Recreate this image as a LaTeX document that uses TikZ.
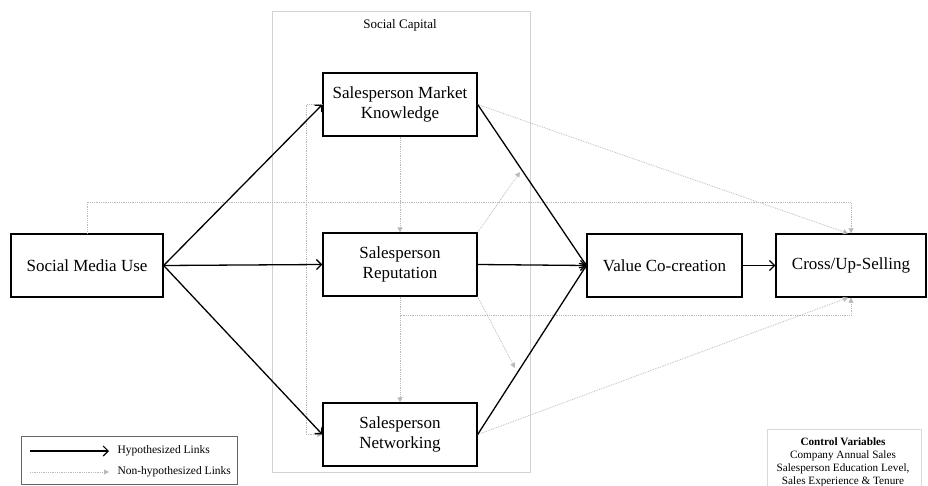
\documentclass[tikz,border=0pt]{standalone}
\usepackage{fontspec}
\setmainfont{Liberation Serif}
\usetikzlibrary{arrows.meta, positioning, calc}

\begin{document}
\begin{tikzpicture}[
      x=1pt, y=-1pt,
      construct/.style={draw, line width=1.3pt, rectangle, minimum height=63pt,
                        align=center, font=\fontsize{17}{20}\selectfont, inner sep=2pt},
      hyp/.style={-{Straight Barb[length=5pt, width=10pt]}, line width=1.3pt},
      nonhyp/.style={-{Triangle[length=5pt, width=5pt]}, gray!55, densely dotted, line width=0.8pt},
      legtext/.style={anchor=west, font=\fontsize{11.5}{13}\selectfont}
    ]
    \useasboundingbox (0,0) rectangle (928,486);
    \clip (0,0) rectangle (928,486);

    % social capital frame
    \draw[gray!35, line width=1pt] (272,12) rectangle (530,472);
    \node[font=\fontsize{13}{15}\selectfont] (capital) at (400,25) {Social Capital};

    \node[construct, minimum width=152pt] (smu) at (87,265.5) {Social Media Use};
    \node[construct, minimum width=154pt] (mk)  at (400,104.5) {Salesperson Market\\Knowledge};
    \node[construct, minimum width=154pt] (rep) at (400,264.5) {Salesperson\\Reputation};
    \node[construct, minimum width=154pt] (net) at (400,434.5) {Salesperson\\Networking};
    \node[construct, minimum width=155pt] (vcc) at (664.5,265.5) {Value Co-creation};
    \node[construct, minimum width=150pt] (cus) at (851,265.5) {Cross/Up-Selling};

    \coordinate (modA) at (520,172);
    \coordinate (modB) at (515,368);

    % non-hypothesized links
    \draw[nonhyp] (smu.north) -- ++(0,-31) -| (cus.north);
    \draw[nonhyp] (mk.east) -- ([xshift=-3pt]cus.north);
    \draw[nonhyp] (net.east) -- ([xshift=-3pt]cus.south);
    \draw[nonhyp] (rep.south) -- ++(0,19) -| (cus.south);
    \draw[nonhyp] (mk.south) -- (rep.north);
    \draw[nonhyp] (rep.south) -- (net.north);
    \draw[nonhyp] (mk.west) -- ++(-16,0) |- (net.west);
    \draw[nonhyp] (rep.north east) -- (modA);
    \draw[nonhyp] (rep.south east) -- (modB);

    % hypothesized links
    \draw[hyp] (smu.east) -- (mk.west);
    \draw[hyp] (smu.east) -- (rep.west);
    \draw[hyp] (smu.east) -- (net.west);
    \draw[hyp] (mk.east) -- (vcc.west);
    \draw[hyp] (rep.east) -- (vcc.west);
    \draw[hyp] (net.east) -- (vcc.west);
    \draw[hyp] (vcc.east) -- (cus.west);

    % legend
    \draw[gray!80!black, line width=0.8pt] (21,436) rectangle (237,484);
    \coordinate (hypA) at (30,451);
    \coordinate (hypB) at (109,451);
    \coordinate (nonA) at (30,472);
    \coordinate (nonB) at (109,472);
    \draw[hyp, line width=1.1pt] (hypA) -- (hypB);
    \draw[nonhyp] (nonA) -- (nonB);
    \node[legtext] (hyplabel) at (114,451) {Hypothesized Links};
    \node[legtext] (nonlabel) at (114,472) {Non-hypothesized Links};

    % control variables
    \draw[gray!30, line width=0.8pt] (767,429) rectangle (921,500);
    \node[align=center, font=\fontsize{11.2}{13}\selectfont] (controls) at (843,462)
      {\textbf{Control Variables}\\Company Annual Sales\\Salesperson Education Level,\\Sales Experience \& Tenure};
  \end{tikzpicture}
\end{document}
